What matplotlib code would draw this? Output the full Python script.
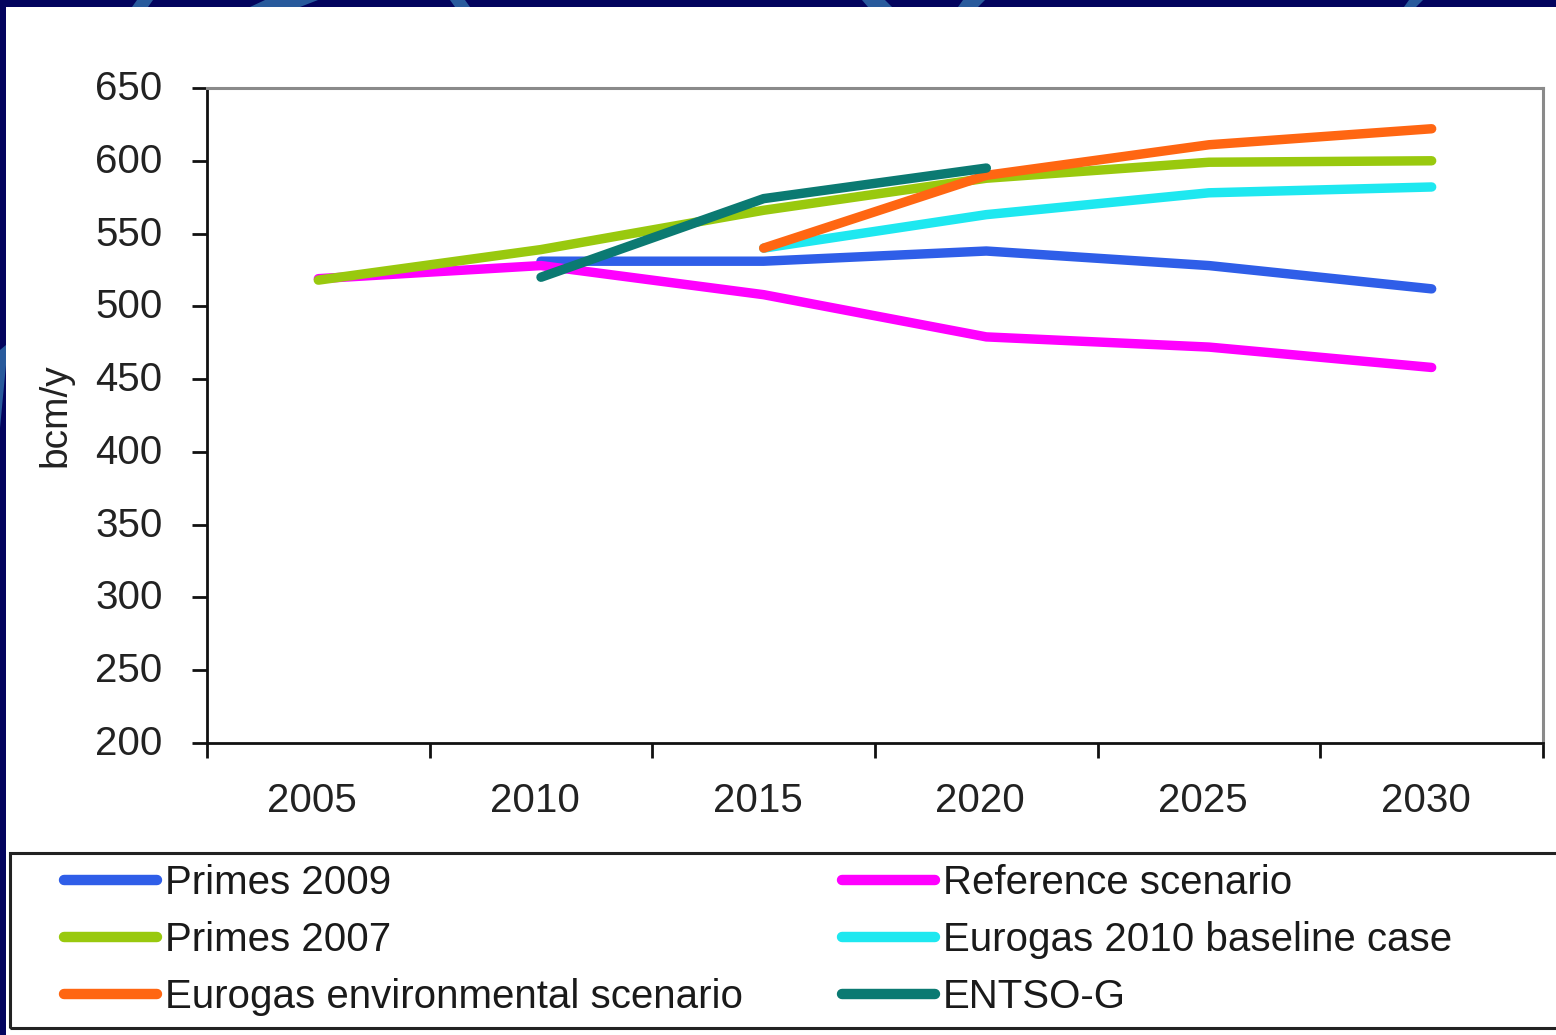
import numpy as np
import matplotlib
matplotlib.use("Agg")
import matplotlib.pyplot as plt
import matplotlib.transforms as mtransforms
from matplotlib.patches import Rectangle, Polygon
from matplotlib.lines import Line2D

# Anos e cenários de demanda de gás (bcm/y)
anos = ["2005", "2010", "2015", "2020", "2025", "2030"]
nan = np.nan

primes_2009 = [nan, 531, 531, 538, 528, 512]
reference_scenario = [519, 528, 508, 479, 472, 458]
primes_2007 = [518, 539, 566, 588, 599, 600]
eurogas_baseline = [nan, nan, 540, 563, 578, 582]
eurogas_environmental = [nan, nan, 540, 590, 611, 622]
entso_g = [nan, 520, 574, 595, nan, nan]

series = [
    ("Primes 2009", primes_2009, "#2f5ee8"),
    ("Reference scenario", reference_scenario, "#ff00ff"),
    ("Primes 2007", primes_2007, "#99c90e"),
    ("Eurogas 2010 baseline case", eurogas_baseline, "#1ee8f0"),
    ("Eurogas environmental scenario", eurogas_environmental, "#ff6612"),
    ("ENTSO-G", entso_g, "#0b7a72"),
]

plt.rcParams['font.family'] = ['Liberation Sans', 'DejaVu Sans']

W, H = 1556, 1035
fig = plt.figure(figsize=(W / 100, H / 100), dpi=100)
fig.patch.set_facecolor("white")

# faixas do fundo do slide
navy = "#03045e"
fig.patches.append(Rectangle((0, 1 - 7 / H), 1, 7 / H, transform=fig.transFigure,
                             facecolor=navy, edgecolor="none", zorder=0))
fig.patches.append(Rectangle((0, 0), 6 / W, 1, transform=fig.transFigure,
                             facecolor=navy, edgecolor="none", zorder=0))
arcos = [(137, 153, 132, 148), (265, 318, 250, 300), (450, 465, 455, 470),
         (862, 885, 868, 892), (963, 985, 958, 978), (1409, 1423, 1404, 1416)]
for x0, x1, x2, x3 in arcos:
    fig.patches.append(Polygon([(x0 / W, 1), (x1 / W, 1), (x3 / W, 1 - 7 / H), (x2 / W, 1 - 7 / H)],
                               closed=True, transform=fig.transFigure,
                               facecolor="#285a9c", edgecolor="none", zorder=0.5))
fig.patches.append(Polygon([(0, 1 - 350 / H), (6 / W, 1 - 345 / H), (6 / W, 1 - 365 / H), (0, 1 - 428 / H)],
                           closed=True, transform=fig.transFigure,
                           facecolor="#285a9c", edgecolor="none", zorder=0.5))

# área do gráfico
ax = fig.add_axes([207 / W, (H - 743) / H, (1543 - 207) / W, (743 - 88) / H])
x = np.arange(len(anos))
linhas = {}
for nome, valores, cor in series:
    l, = ax.plot(x, valores, color=cor, lw=6.8, solid_capstyle="round",
                 solid_joinstyle="round", label=nome)
    linhas[nome] = l

ax.set_xlim(-0.5, len(anos) - 0.5)
ax.set_ylim(200, 650)
ax.set_yticks(np.arange(200, 651, 50))
ax.set_xticks(x)
ax.set_xticklabels(anos)
ax.set_xticks(np.arange(-0.5, len(anos), 1), minor=True)

ax.tick_params(axis="x", which="major", length=0, pad=28, labelsize=29, labelcolor="#222222")
ax.tick_params(axis="x", which="minor", length=11, width=2, direction="out", color="#111111")
ax.tick_params(axis="y", length=11, width=2, direction="out", pad=21, labelsize=29,
               labelcolor="#222222", color="#111111")

# rótulos do eixo x um pouco à esquerda, rótulos do eixo y um pouco acima
desloc_x = mtransforms.ScaledTranslation(-6 / 100, 0, fig.dpi_scale_trans)
for t in ax.get_xticklabels():
    t.set_transform(t.get_transform() + desloc_x)
desloc_y = mtransforms.ScaledTranslation(0, 3 / 100, fig.dpi_scale_trans)
for t in ax.get_yticklabels():
    t.set_transform(t.get_transform() + desloc_y)

for lado in ["left", "bottom"]:
    ax.spines[lado].set_color("#111111")
    ax.spines[lado].set_linewidth(2)
for lado in ["top", "right"]:
    ax.spines[lado].set_color("#8a8a8a")
    ax.spines[lado].set_linewidth(2.2)

ax.set_ylabel("bcm/y", fontsize=28, color="#222222")
ax.yaxis.set_label_coords(-0.10, 0.5)

# caixa da legenda
fig.patches.append(Rectangle((10 / W, (H - 1028) / H), 1.0, (1028 - 853) / H,
                             transform=fig.transFigure, facecolor="none",
                             edgecolor="#222222", lw=2.2, zorder=3))

col1 = ["Primes 2009", "Primes 2007", "Eurogas environmental scenario"]
col2 = ["Reference scenario", "Eurogas 2010 baseline case", "ENTSO-G"]
for nomes, x0 in [(col1, 64), (col2, 842)]:
    handles = [Line2D([], [], color=linhas[n].get_color(), lw=7.5, solid_capstyle="round")
               for n in nomes]
    leg = fig.legend(handles, nomes, loc="upper left",
                     bbox_to_anchor=(x0 / W, (H - 864) / H),
                     frameon=False, fontsize=29, borderpad=0, borderaxespad=0,
                     handlelength=2.3, handletextpad=0.2, labelspacing=0.47)
    for t in leg.get_texts():
        t.set_color("#1a1a1a")

fig.savefig("out.png", dpi=100, facecolor=fig.get_facecolor())
